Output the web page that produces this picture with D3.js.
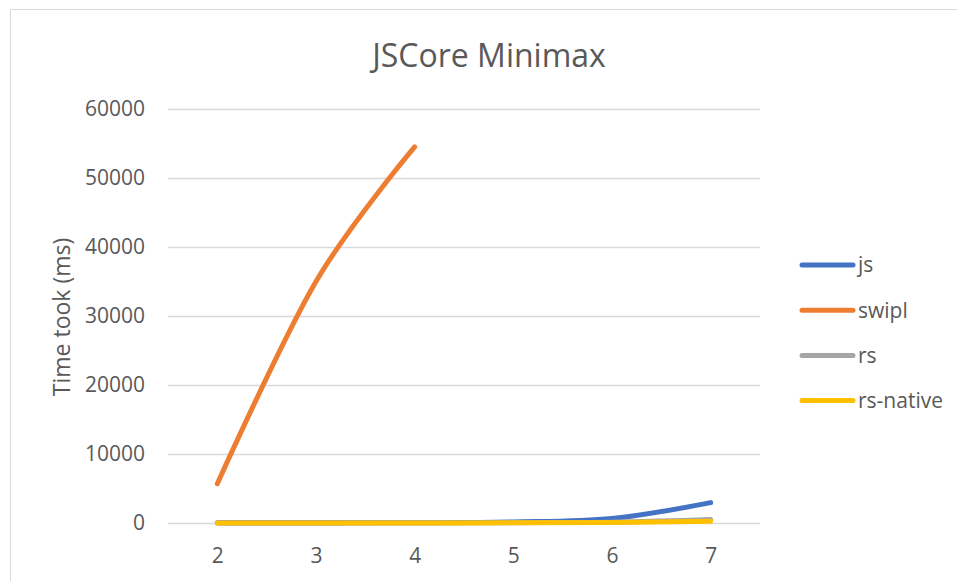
<!DOCTYPE html>
<html>
<head>
<meta charset="utf-8">
<script src="https://cdn.jsdelivr.net/npm/d3@7"></script>
<style>
  html, body { margin: 0; padding: 0; background: #fff; }
  svg { display: block; font-family: "Open Sans", "Noto Sans", sans-serif; }
</style>
</head>
<body>
<svg id="chart" width="957" height="581"></svg>
<script>
// Board sizes on the x axis
const categories = ["2", "3", "4", "5", "6", "7"];

// Run time in milliseconds per implementation (null = not measured)
const jsTimes       = [20, 30, 40, 150, 650, 2950];
const swiplTimes    = [5700, 35000, 54500, null, null, null];
const rsTimes       = [10, 15, 25, 50, 120, 500];
const rsNativeTimes = [5, 8, 12, 25, 70, 250];

const seriesNames  = ["js", "swipl", "rs", "rs-native"];
const seriesColors = ["#4472C4", "#ED7D31", "#A5A5A5", "#FFC000"];
const yTicks = [0, 10000, 20000, 30000, 40000, 50000, 60000];

const series = [jsTimes, swiplTimes, rsTimes, rsNativeTimes].map((vals, i) => ({
  name: seriesNames[i],
  color: seriesColors[i],
  values: vals.map((v, j) => ({ cat: categories[j], v }))
}));

const svg = d3.select("#chart");
const W = 957, H = 581;
const plot = { left: 168, right: 760, top: 109, bottom: 523 };
const textColor = "#595959";

// Chart area frame
svg.append("rect")
  .attr("x", 10.5).attr("y", 9.5)
  .attr("width", W + 10).attr("height", H + 10)
  .attr("fill", "#fff").attr("stroke", "#d9d9d9").attr("stroke-width", 1);

const x = d3.scalePoint().domain(categories)
  .range([plot.left, plot.right]).padding(0.5);
const y = d3.scaleLinear().domain([0, 60000]).range([plot.bottom, plot.top]);

// Horizontal gridlines
svg.append("g").selectAll("line").data(yTicks).join("line")
  .attr("x1", plot.left).attr("x2", plot.right)
  .attr("y1", d => Math.round(y(d)) + 0.5).attr("y2", d => Math.round(y(d)) + 0.5)
  .attr("stroke", "#d9d9d9").attr("stroke-width", 1.3);

// Y axis labels
const yAxis = d3.axisLeft(y).tickValues(yTicks).tickFormat(d3.format("d"))
  .tickSize(0).tickPadding(0);
const gy = svg.append("g").attr("transform", `translate(${plot.left - 23},0)`).call(yAxis);
gy.select(".domain").remove();
gy.selectAll("text").attr("fill", textColor).style("font-size", "21px")
  .style("font-family", "'Open Sans', sans-serif");

// X axis labels
const xAxis = d3.axisBottom(x).tickSize(0).tickPadding(0);
const gx = svg.append("g").attr("transform", `translate(0,${plot.bottom})`).call(xAxis);
gx.select(".domain").remove();
gx.selectAll("text").attr("fill", textColor).style("font-size", "21px")
  .style("font-family", "'Open Sans', sans-serif")
  .attr("y", 40).attr("dy", null);

// Smoothed series lines
const line = d3.line()
  .defined(d => d.v !== null)
  .x(d => x(d.cat))
  .y(d => y(d.v))
  .curve(d3.curveCatmullRom.alpha(0));

svg.append("g").selectAll("path").data(series).join("path")
  .attr("d", d => line(d.values))
  .attr("fill", "none")
  .attr("stroke", d => d.color)
  .attr("stroke-width", 5)
  .attr("stroke-linecap", "round")
  .attr("stroke-linejoin", "round");

// Title
svg.append("text")
  .attr("x", 489).attr("y", 67)
  .attr("text-anchor", "middle")
  .attr("fill", textColor)
  .style("font-size", "32px")
  .text("JSCore Minimax");

// Y axis title
svg.append("text")
  .attr("transform", "translate(70,317) rotate(-90)")
  .attr("text-anchor", "middle")
  .attr("fill", textColor)
  .style("font-size", "23px")
  .text("Time took (ms)");

// Legend
const legend = svg.append("g").selectAll("g").data(series).join("g")
  .attr("transform", (d, i) => `translate(800,${265 + i * 45.2})`);
legend.append("line")
  .attr("x1", 2).attr("x2", 53).attr("y1", 0).attr("y2", 0)
  .attr("stroke", d => d.color).attr("stroke-width", 5)
  .attr("stroke-linecap", "round");
legend.append("text")
  .attr("x", 58).attr("y", 0).attr("dy", "0.35em")
  .attr("fill", textColor)
  .style("font-size", "21px")
  .text(d => d.name);
</script>
</body>
</html>
